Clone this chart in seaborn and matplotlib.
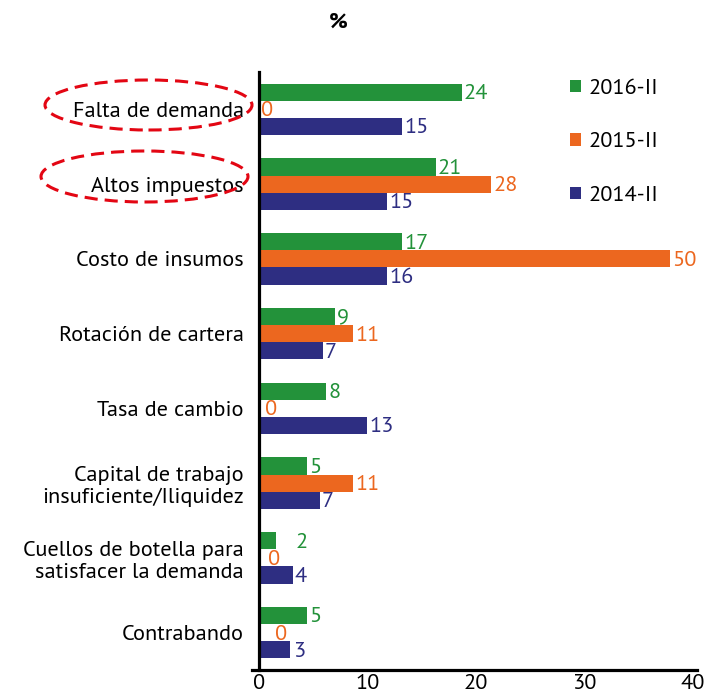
import matplotlib
matplotlib.use("Agg")
import matplotlib.pyplot as plt
import matplotlib.font_manager as fm
import matplotlib.transforms as mtransforms
from matplotlib.patches import Ellipse, Patch
import pandas as pd
import seaborn as sns

# -- data --------------------------------------------------------------------

CATEGORIES = [
    "Falta de demanda",
    "Altos impuestos",
    "Costo de insumos",
    "Rotación de cartera",
    "Tasa de cambio",
    "Capital de trabajo\ninsuficiente/Iliquidez",
    "Cuellos de botella para\nsatisfacer la demanda",
    "Contrabando",
]
SERIES = ["2016-II", "2015-II", "2014-II"]

# bar lengths as drawn on the 0-40 axis of the original
BAR_2016 = [18.7, 16.3, 13.2, 7.0, 6.2, 4.4, 1.6, 4.4]
BAR_2015 = [0.0, 21.4, 37.9, 8.7, 0.0, 8.7, 0.0, 0.0]
BAR_2014 = [13.2, 11.8, 11.8, 5.9, 10.0, 5.6, 3.1, 2.9]

# the printed data labels
LABEL_2016 = [24, 21, 17, 9, 8, 5, 2, 5]
LABEL_2015 = [0, 28, 50, 11, 0, 11, 0, 0]
LABEL_2014 = [15, 15, 16, 7, 13, 7, 4, 3]

X_TICKS = [0, 10, 20, 30, 40]

COLORS = {"2016-II": "#23923A", "2015-II": "#EC671F", "2014-II": "#2E2E82"}
RED = "#E30613"

# -- font --------------------------------------------------------------------

_names = {f.name for f in fm.fontManager.ttflist}
FONT = next(
    (n for n in ["PT Sans", "Fira Sans", "Liberation Sans"] if n in _names),
    "DejaVu Sans",
)

sns.set_theme(style="white")
plt.rcParams["font.family"] = [FONT, "DejaVu Sans"]
plt.rcParams["text.color"] = "black"

FS = 16

# -- frame -------------------------------------------------------------------

bars = {"2016-II": BAR_2016, "2015-II": BAR_2015, "2014-II": BAR_2014}
labels = {"2016-II": LABEL_2016, "2015-II": LABEL_2015, "2014-II": LABEL_2014}

df = pd.DataFrame(
    [(c, s, bars[s][i], labels[s][i])
     for i, c in enumerate(CATEGORIES) for s in SERIES],
    columns=["cat", "serie", "bar", "label"],
)

fig = plt.figure(figsize=(7.21, 6.98), dpi=100)
ax = fig.add_axes([252 / 721, 28 / 698, 445 / 721, 598 / 698])

sns.barplot(
    data=df, x="bar", y="cat", hue="serie", orient="h",
    order=CATEGORIES, hue_order=SERIES, palette=COLORS,
    width=0.69, saturation=1, linewidth=0, errorbar=None,
    legend=False, ax=ax,
)

ax.set_xlim(-0.645, 40.37)
ax.set_ylim(7.5, -0.5)
ax.set_xticks(X_TICKS)
ax.set_xlabel("")
ax.set_ylabel("")
ax.tick_params(axis="both", length=0, labelsize=FS, labelcolor="black")
ax.tick_params(axis="y", pad=11)
ax.tick_params(axis="x", pad=3)
lift = mtransforms.ScaledTranslation(0, 3 / 100, fig.dpi_scale_trans)
for t in ax.get_yticklabels():
    t.set_horizontalalignment("right")
    t.set_linespacing(1.05)
    t.set_transform(t.get_transform() + lift)

for side in ("top", "right"):
    ax.spines[side].set_visible(False)
ax.spines["left"].set_position(("data", 0))
ax.spines["left"].set_linewidth(2.3)
ax.spines["bottom"].set_linewidth(2.3)
ax.spines["left"].set_color("black")
ax.spines["bottom"].set_color("black")

# value labels
nudge = {("2016-II", 6): 12, ("2015-II", 7): 10, ("2015-II", 4): 3, ("2015-II", 6): 5}
for s, cont in zip(SERIES, ax.containers):
    for i, rect in enumerate(cont):
        x = rect.get_width()
        y = rect.get_y() + rect.get_height() / 2
        ax.annotate(
            str(labels[s][i]), (x, y), xytext=(1.5 + nudge.get((s, i), 0), -1),
            textcoords="offset points", ha="left", va="center",
            fontsize=FS, color=COLORS[s],
        )

# legend
handles = [Patch(facecolor=COLORS[s], edgecolor="none") for s in SERIES]
fig.legend(
    handles, SERIES, loc="upper left", bbox_to_anchor=(550 / 721, 1 - 59 / 698),
    frameon=False, fontsize=FS, handlelength=0.48, handleheight=0.48,
    handletextpad=0.35, labelspacing=1.55,
)

# "%" header
fig.text(338 / 721, 1 - 22 / 698, "%", ha="center", va="center",
         fontsize=FS, fontweight="bold")

# dashed ellipses around the first two categories
for cx, cy, w, h in [(148.5, 105, 207, 50), (144.5, 176.5, 207, 51)]:
    fig.patches.append(Ellipse(
        (cx / 721, 1 - cy / 698), w / 721, h / 698,
        transform=fig.transFigure, fill=False, edgecolor=RED,
        linewidth=2.2, linestyle=(0, (4.3, 2.3)),
    ))

fig.savefig("out.png", dpi=100)
